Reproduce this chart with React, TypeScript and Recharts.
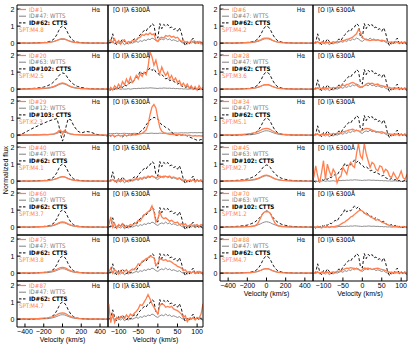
import React from 'react';
import { LineChart, Line, XAxis, YAxis } from 'recharts';

// ---------- velocity grids & ticks ----------
const HA_V = [-480, -420, -360, -300, -250, -200, -160, -120, -90, -60, -40, -20, 0, 20, 40, 60, 90, 120, 160, 200, 250, 300, 360, 420, 480];
const OI_V = [-125, -120, -115, -110, -105, -100, -95, -90, -85, -80, -75, -70, -65, -60, -55, -50, -45, -40, -35, -30, -25, -20, -15, -10, -5, 0, 5, 10, 15, 20, 25, 30, 35, 40, 45, 50, 55, 60, 65, 70, 75, 80, 85, 90, 95, 100, 105, 110, 115];
const HA_TICKS = [-400, -200, 0, 200, 400];
const OI_TICKS = [-100, -50, 0, 50, 100];
const Y_TICKS = [0, 1, 2];
const HA_MINOR = [-450, -400, -350, -300, -250, -200, -150, -100, -50, 0, 50, 100, 150, 200, 250, 300, 350, 400, 450];
const OI_MINOR = [-120, -110, -100, -90, -80, -70, -60, -50, -40, -30, -20, -10, 0, 10, 20, 30, 40, 50, 60, 70, 80, 90, 100, 110];
const Y_MINOR = [-0.4, -0.2, 0, 0.2, 0.4, 0.6, 0.8, 1, 1.2, 1.4, 1.6, 1.8, 2, 2.2];

// ---------- template spectra (WTTS / CTTS) ----------
const HA_WTTS47 = [0.0, 0.0, 0.01, 0.0, 0.01, 0.02, 0.03, 0.06, 0.1, 0.16, 0.21, 0.25, 0.26, 0.25, 0.21, 0.16, 0.1, 0.06, 0.03, 0.02, 0.01, 0.0, 0.0, 0.01, 0.0];
const HA_CTTS62 = [0.0, 0.01, -0.01, 0.02, 0.03, 0.04, 0.07, 0.13, 0.25, 0.5, 0.74, 0.93, 1.0, 0.95, 0.8, 0.56, 0.28, 0.13, 0.06, 0.03, 0.02, 0.0, 0.01, -0.01, 0.0];
const HA_WTTS63 = [0.0, 0.0, 0.01, 0.01, 0.02, 0.03, 0.05, 0.08, 0.13, 0.2, 0.26, 0.3, 0.32, 0.3, 0.26, 0.2, 0.13, 0.08, 0.05, 0.03, 0.02, 0.01, 0.0, 0.0, 0.0];
const HA_CTTS102 = [0.0, 0.02, 0.03, 0.05, 0.08, 0.12, 0.2, 0.3, 0.45, 0.62, 0.78, 0.9, 0.95, 0.92, 0.8, 0.62, 0.42, 0.28, 0.16, 0.1, 0.05, 0.03, 0.02, 0.01, 0.0];
const HA_WTTS12 = [0.0, 0.0, 0.01, 0.0, 0.01, 0.02, 0.02, 0.04, 0.06, 0.1, 0.15, 0.2, 0.22, 0.2, 0.15, 0.1, 0.06, 0.04, 0.02, 0.01, 0.0, 0.0, 0.01, 0.0, 0.0];
const HA_CTTS103 = [0.0, 0.1, 0.28, 0.45, 0.58, 0.7, 0.8, 0.88, 0.93, 0.97, 0.6, 0.05, -0.35, 0.0, 0.55, 0.95, 0.9, 0.55, 0.25, 0.12, 0.22, 0.18, 0.05, 0.0, -0.05];

const OI_WTTS47 = [0.05, 0.0, 0.1, -0.05, 0.05, 0.0, -0.05, 0.05, -0.1, 0.0, -0.05, 0.05, 0.0, 0.05, 0.1, 0.05, 0.15, 0.1, 0.2, 0.15, 0.25, 0.2, 0.3, 0.25, 0.15, 0.1, 0.2, 0.25, 0.2, 0.3, 0.2, 0.25, 0.15, 0.2, 0.15, 0.1, 0.15, 0.05, 0.0, 0.05, -0.05, 0.05, 0.0, 0.1, -0.05, 0.05, 0.0, 0.1, -0.1];
const OI_CTTS62 = [0.0, 0.05, 0.55, 0.1, -0.1, 0.15, 0.05, 0.25, 0.1, -0.05, 0.1, 0.0, 0.15, 0.25, 0.15, 0.35, 0.5, 0.6, 0.75, 0.7, 0.9, 0.95, 1.15, 1.05, 0.4, 0.3, 1.15, 0.85, 1.1, 1.0, 1.1, 0.9, 0.95, 0.8, 0.85, 0.7, 0.9, 0.6, 0.1, -0.15, 0.05, -0.05, 0.15, 0.3, 0.0, 0.1, -0.05, 0.05, -0.15];
const OI_WTTS63 = [0.0, 0.02, -0.02, 0.01, 0.0, 0.03, -0.01, 0.02, 0.0, 0.01, 0.03, 0.0, 0.02, 0.04, 0.03, 0.05, 0.04, 0.06, 0.05, 0.07, 0.06, 0.08, 0.07, 0.06, 0.05, 0.04, 0.06, 0.05, 0.07, 0.06, 0.05, 0.06, 0.04, 0.05, 0.03, 0.04, 0.02, 0.03, 0.01, 0.02, 0.0, 0.01, 0.02, 0.0, 0.01, -0.01, 0.0, 0.01, 0.0];
const OI_CTTS102 = [0.0, -0.05, 0.05, 0.0, 0.1, 0.05, 0.15, 0.1, 0.25, 0.2, 0.3, 0.4, 0.35, 0.55, 0.7, 0.8, 1.05, 0.9, 1.0, 0.95, 1.1, 1.25, 1.1, 1.2, 1.0, 0.95, 0.8, 0.85, 0.75, 0.6, 0.65, 0.5, 0.55, 0.45, 0.4, 0.3, 0.35, 0.2, 0.15, 0.1, 0.15, 0.05, 0.1, 0.0, 0.05, -0.05, 0.0, 0.05, -0.05];
const OI_WTTS12 = [0.1, 0.08, 0.1, 0.09, 0.11, 0.1, 0.09, 0.1, 0.11, 0.1, 0.1, 0.09, 0.1, 0.11, 0.1, 0.1, 0.11, 0.1, 0.12, 0.11, 0.1, 0.11, 0.12, 0.1, 0.11, 0.1, 0.12, 0.11, 0.1, 0.12, 0.11, 0.12, 0.13, 0.12, 0.13, 0.12, 0.13, 0.14, 0.13, 0.14, 0.13, 0.14, 0.15, 0.14, 0.15, 0.14, 0.15, 0.14, 0.15];
const OI_CTTS103 = [0.0, -0.05, 0.0, -0.1, -0.05, 0.0, -0.05, -0.1, 0.0, -0.05, 0.0, -0.05, 0.05, 0.0, 0.05, 0.1, 0.2, 0.3, 0.4, 0.6, 0.75, 0.9, 0.95, 1.05, 1.0, 0.95, 0.75, 0.6, 0.55, 0.45, 0.4, 0.3, 0.2, 0.05, 0.0, 0.0, 0.02, 0.0, 0.02, 0.0, -0.05, -0.1, -0.15, -0.2, -0.25, -0.3, -0.3, -0.25, -0.3];

// ---------- target stars: Hα ----------
const HA_ID1 = [0.0, 0.01, 0.0, 0.02, 0.01, 0.03, 0.04, 0.07, 0.11, 0.16, 0.2, 0.23, 0.24, 0.23, 0.2, 0.15, 0.09, 0.05, 0.03, 0.02, 0.01, 0.0, 0.01, 0.0, 0.0];
const HA_ID20 = [0.0, 0.02, 0.01, 0.03, 0.04, 0.06, 0.08, 0.12, 0.17, 0.24, 0.3, 0.34, 0.36, 0.34, 0.3, 0.23, 0.15, 0.1, 0.06, 0.04, 0.03, 0.01, 0.02, 0.0, 0.01];
const HA_ID29 = [0.0, 0.02, 0.0, 0.03, 0.02, 0.04, 0.03, 0.06, 0.08, 0.15, 0.25, 0.3, 0.05, 0.28, 0.22, 0.12, 0.07, 0.04, 0.03, 0.02, 0.01, 0.02, 0.0, 0.01, 0.0];
const HA_ID40 = [0.0, 0.0, 0.01, 0.0, 0.02, 0.03, 0.04, 0.07, 0.1, 0.15, 0.2, 0.24, 0.26, 0.25, 0.21, 0.15, 0.09, 0.05, 0.03, 0.02, 0.01, 0.0, 0.01, 0.0, 0.0];
const HA_ID60 = [0.0, 0.01, 0.0, 0.02, 0.03, 0.04, 0.06, 0.09, 0.14, 0.2, 0.26, 0.3, 0.31, 0.3, 0.26, 0.19, 0.12, 0.07, 0.04, 0.02, 0.01, 0.01, 0.0, 0.0, 0.0];
const HA_ID75 = [0.0, 0.01, 0.02, 0.02, 0.03, 0.05, 0.07, 0.11, 0.16, 0.23, 0.29, 0.33, 0.34, 0.32, 0.28, 0.21, 0.13, 0.08, 0.05, 0.03, 0.02, 0.01, 0.0, 0.01, 0.0];
const HA_ID87 = [0.0, 0.01, 0.02, 0.03, 0.04, 0.06, 0.08, 0.12, 0.18, 0.26, 0.32, 0.36, 0.37, 0.35, 0.3, 0.23, 0.15, 0.09, 0.05, 0.03, 0.02, 0.01, 0.01, 0.0, 0.0];
const HA_ID6 = [0.0, 0.0, 0.01, 0.02, 0.02, 0.04, 0.05, 0.09, 0.14, 0.2, 0.26, 0.29, 0.3, 0.29, 0.25, 0.18, 0.11, 0.06, 0.03, 0.02, 0.01, 0.0, 0.01, 0.0, 0.0];
const HA_ID28 = [0.0, 0.01, 0.0, 0.01, 0.02, 0.03, 0.05, 0.08, 0.12, 0.18, 0.23, 0.26, 0.27, 0.26, 0.22, 0.16, 0.1, 0.05, 0.03, 0.02, 0.01, 0.01, 0.0, 0.0, 0.0];
const HA_ID34 = [0.0, 0.01, 0.02, 0.03, 0.05, 0.07, 0.1, 0.15, 0.21, 0.29, 0.35, 0.39, 0.4, 0.38, 0.33, 0.26, 0.17, 0.11, 0.06, 0.04, 0.02, 0.01, 0.01, 0.0, 0.0];
const HA_ID45 = [0.0, 0.01, 0.02, 0.02, 0.04, 0.06, 0.08, 0.12, 0.17, 0.24, 0.3, 0.34, 0.35, 0.33, 0.29, 0.22, 0.14, 0.09, 0.05, 0.03, 0.02, 0.01, 0.0, 0.0, 0.0];
const HA_ID70 = [0.0, 0.0, 0.01, 0.02, 0.02, 0.03, 0.04, 0.08, 0.22, 0.55, 0.8, 0.9, 0.92, 0.9, 0.82, 0.55, 0.22, 0.08, 0.04, 0.02, 0.01, 0.0, 0.01, 0.0, 0.0];
const HA_ID88 = [0.0, 0.01, 0.0, 0.01, 0.02, 0.03, 0.04, 0.07, 0.11, 0.17, 0.22, 0.25, 0.26, 0.25, 0.21, 0.15, 0.09, 0.05, 0.03, 0.02, 0.01, 0.0, 0.0, 0.01, 0.0];

// ---------- target stars: [O I] 6300 ----------
const OI_ID1 = [0.1, 0.2, 0.05, 0.25, 0.0, 0.15, -0.05, 0.1, 0.2, 0.0, 0.1, 0.05, 0.15, 0.1, 0.2, 0.3, 0.35, 0.5, 0.45, 0.55, 0.5, 0.6, 0.5, 0.55, 0.2, 0.1, 0.3, 0.35, 0.3, 0.45, 0.4, 0.45, 0.35, 0.4, 0.3, 0.35, 0.2, 0.1, 0.15, 0.05, 0.1, 0.0, 0.15, 0.05, 0.1, 0.0, 0.1, -0.05, 0.05];
const OI_ID20 = [-0.1, 0.1, -0.05, 0.2, 0.05, 0.3, 0.1, 0.45, 0.25, 0.6, 0.35, 0.7, 0.4, 0.55, 0.8, 0.6, 0.9, 0.75, 1.0, 0.85, 1.3, 2.2, 1.9, 1.4, 1.7, 1.2, 0.9, 1.3, 1.0, 0.8, 1.0, 0.6, 0.8, 0.5, 0.65, 0.4, 0.5, 0.2, 0.35, 0.15, 0.3, 0.05, 0.2, 0.0, 0.15, -0.05, 0.2, 0.0, 0.1];
const OI_ID29 = [0.0, -0.05, 0.02, -0.08, -0.03, 0.0, -0.05, -0.02, 0.03, -0.04, 0.0, 0.02, 0.0, 0.03, 0.02, 0.05, 0.08, 0.1, 0.2, 0.3, 0.6, 1.2, 1.65, 1.8, 1.6, 1.0, 0.45, 0.22, 0.15, 0.1, 0.08, 0.05, 0.06, 0.03, 0.05, 0.02, 0.04, 0.0, 0.02, 0.0, -0.02, 0.0, -0.03, -0.05, -0.02, -0.05, -0.03, -0.05, -0.04];
const OI_ID40 = [0.05, 0.0, 0.1, 0.05, -0.05, 0.1, 0.0, 0.05, 0.1, 0.0, 0.05, 0.1, 0.05, 0.1, 0.15, 0.1, 0.2, 0.15, 0.25, 0.2, 0.3, 0.25, 0.3, 0.25, 0.2, 0.25, 0.3, 0.25, 0.3, 0.28, 0.25, 0.3, 0.2, 0.25, 0.2, 0.15, 0.2, 0.1, 0.05, 0.1, 0.0, 0.05, 0.0, 0.1, -0.05, 0.05, 0.0, 0.05, -0.05];
const OI_ID60 = [0.1, 0.6, 0.0, 0.2, -0.05, 0.15, 0.05, 0.2, 0.0, 0.1, 0.05, 0.15, 0.1, 0.2, 0.25, 0.4, 0.35, 0.55, 0.7, 0.8, 0.9, 1.0, 1.25, 0.9, 0.3, 0.5, 0.9, 0.6, 0.5, 0.55, 0.45, 0.35, 0.4, 0.3, 0.25, 0.3, 0.15, 0.2, 0.1, 0.2, 0.05, 0.1, 0.15, 0.05, 0.1, 0.15, 0.05, 0.15, 0.1];
const OI_ID75 = [0.05, 0.3, 0.0, 0.2, 0.1, -0.05, 0.15, 0.0, 0.1, 0.2, 0.05, 0.15, 0.25, 0.2, 0.35, 0.55, 0.5, 0.7, 0.75, 0.85, 0.9, 1.0, 0.95, 0.9, 0.45, 0.6, 0.85, 0.8, 0.75, 0.8, 0.7, 0.72, 0.65, 0.55, 0.5, 0.4, 0.35, 0.3, 0.15, 0.2, 0.05, 0.1, 0.0, 0.1, 0.05, 0.0, 0.1, 0.0, 0.05];
const OI_ID87 = [0.9, -0.2, 0.3, -0.2, 0.1, 0.0, 0.15, 0.1, 0.05, 0.25, 0.1, 0.3, 0.2, 0.35, 0.45, 0.6, 0.85, 0.8, 1.0, 1.2, 1.45, 1.2, 0.9, 0.7, 0.5, 0.3, 0.8, 0.9, 0.85, 0.7, 0.75, 0.7, 0.75, 0.6, 0.55, 0.5, 0.4, 0.3, 0.1, 0.2, -0.15, 0.05, 0.0, 0.1, -0.05, 0.1, 0.05, 0.3, 0.9];
const OI_ID6 = [0.05, 0.0, 0.08, 0.02, 0.05, 0.0, 0.06, 0.03, 0.05, 0.02, 0.08, 0.05, 0.1, 0.08, 0.12, 0.15, 0.18, 0.22, 0.25, 0.3, 0.35, 0.45, 0.55, 0.8, 0.65, 0.35, 0.25, 0.2, 0.18, 0.15, 0.18, 0.2, 0.18, 0.2, 0.15, 0.17, 0.15, 0.12, 0.1, 0.05, 0.08, 0.05, 0.1, 0.03, 0.05, 0.0, 0.05, 0.02, 0.0];
const OI_ID28 = [0.05, 0.0, 0.05, 0.1, 0.0, 0.05, 0.08, 0.02, 0.1, 0.05, 0.1, 0.08, 0.12, 0.1, 0.18, 0.25, 0.2, 0.28, 0.3, 0.35, 0.4, 0.35, 0.25, 0.15, 0.1, 0.15, 0.2, 0.3, 0.35, 0.32, 0.35, 0.3, 0.28, 0.3, 0.22, 0.2, 0.18, 0.15, 0.12, 0.1, 0.05, 0.08, 0.05, 0.02, 0.06, 0.0, 0.04, 0.02, 0.0];
const OI_ID34 = [0.05, 0.02, 0.06, 0.0, 0.05, 0.03, 0.06, 0.02, 0.08, 0.05, 0.1, 0.08, 0.12, 0.1, 0.15, 0.2, 0.22, 0.25, 0.3, 0.32, 0.35, 0.3, 0.28, 0.25, 0.22, 0.3, 0.35, 0.4, 0.38, 0.35, 0.3, 0.25, 0.22, 0.2, 0.18, 0.2, 0.15, 0.12, 0.1, 0.08, 0.05, 0.06, 0.03, 0.05, 0.02, 0.04, 0.0, 0.03, 0.0];
const OI_ID45 = [0.2, 0.9, 0.3, -0.1, 0.5, 1.2, 0.1, 1.0, 0.6, 0.3, 0.7, 0.5, -0.1, 0.2, 0.3, 0.8, 0.6, 0.4, 0.9, 1.1, 0.9, 0.8, 1.6, 2.2, 1.5, 1.3, 2.2, 1.6, 1.2, 0.8, 1.1, 1.0, 0.7, 0.6, 0.9, 0.85, 0.5, 0.7, 0.6, 0.3, 0.2, 0.5, 0.3, 0.1, 0.3, 0.6, 0.2, 0.1, 0.4];
const OI_ID70 = [0.02, -0.03, 0.05, 0.0, -0.05, 0.03, 0.0, 0.05, -0.02, 0.04, 0.0, 0.05, 0.08, 0.1, 0.18, 0.25, 0.3, 0.4, 0.48, 0.6, 0.65, 0.75, 0.85, 0.95, 1.0, 0.95, 0.85, 0.75, 0.7, 0.65, 0.55, 0.5, 0.4, 0.45, 0.38, 0.3, 0.25, 0.2, 0.15, 0.1, 0.08, 0.05, 0.03, 0.06, 0.02, 0.0, 0.04, 0.0, 0.02];
const OI_ID88 = [0.05, 0.0, 0.06, 0.02, 0.05, 0.0, 0.04, 0.06, 0.02, 0.05, 0.08, 0.05, 0.1, 0.12, 0.15, 0.2, 0.25, 0.3, 0.28, 0.32, 0.3, 0.28, 0.25, 0.22, 0.15, 0.2, 0.3, 0.28, 0.3, 0.25, 0.22, 0.25, 0.28, 0.3, 0.25, 0.22, 0.2, 0.15, 0.1, 0.05, 0.06, 0.03, 0.05, 0.0, 0.04, 0.02, 0.0, 0.03, 0.0];

// ---------- labels ----------
const LEFT_IDS = ['ID#1', 'ID#20', 'ID#29', 'ID#40', 'ID#60', 'ID#75', 'ID#87'];
const LEFT_SPT = ['SPT:M4.8', 'SPT:M2.5', 'SPT:K2.3', 'SPT:M4.1', 'SPT:M3.7', 'SPT:M3.8', 'SPT:M4.7'];
const LEFT_TPL = ['47/62', '63/102', '12/103', '47/62', '47/62', '47/62', '47/62'];
const LEFT_HA = [HA_ID1, HA_ID20, HA_ID29, HA_ID40, HA_ID60, HA_ID75, HA_ID87];
const LEFT_OI = [OI_ID1, OI_ID20, OI_ID29, OI_ID40, OI_ID60, OI_ID75, OI_ID87];

const RIGHT_IDS = ['ID#6', 'ID#28', 'ID#34', 'ID#45', 'ID#70', 'ID#88'];
const RIGHT_SPT = ['SPT:M4.2', 'SPT:M3.6', 'SPT:M5.1', 'SPT:M2.7', 'SPT:M1.2', 'SPT:M4.7'];
const RIGHT_TPL = ['47/62', '47/62', '47/62', '63/102', '63/102', '47/62'];
const RIGHT_HA = [HA_ID6, HA_ID28, HA_ID34, HA_ID45, HA_ID70, HA_ID88];
const RIGHT_OI = [OI_ID6, OI_ID28, OI_ID34, OI_ID45, OI_ID70, OI_ID88];

const TEMPLATES: Record<string, any> = {
  '47/62': { w: 'ID#47: WTTS', c: 'ID#62: CTTS', haW: HA_WTTS47, haC: HA_CTTS62, oiW: OI_WTTS47, oiC: OI_CTTS62 },
  '63/102': { w: 'ID#63: WTTS', c: 'ID#102: CTTS', haW: HA_WTTS63, haC: HA_CTTS102, oiW: OI_WTTS63, oiC: OI_CTTS102 },
  '12/103': { w: 'ID#12: WTTS', c: 'ID#103: CTTS', haW: HA_WTTS12, haC: HA_CTTS103, oiW: OI_WTTS12, oiC: OI_CTTS103 },
};

// ---------- styling / layout ----------
const ORANGE = '#FF7F50';
const GRAY = '#808080';
const BLACK = '#000000';
const FONT = "'Liberation Sans Narrow', 'DejaVu Sans Condensed', 'Liberation Sans', Arial, sans-serif";
const TICK_FONT = "'Liberation Sans', Arial, sans-serif";
const Y_DOMAIN = [-0.46, 2.24];
const HA_DOMAIN = [-485, 485];
const OI_DOMAIN = [-127, 115];
const TOP = 5;
const RH = 46;
const PAD = 2; // two 1-px axis bands (major + minor) around each plot box

const GROUPS = [
  { haX: 17, haW: 91, oiX: 108, oiW: 95, ids: LEFT_IDS, spt: LEFT_SPT, tpl: LEFT_TPL, ha: LEFT_HA, oi: LEFT_OI },
  { haX: 220, haW: 93, oiX: 313, oiW: 94, ids: RIGHT_IDS, spt: RIGHT_SPT, tpl: RIGHT_TPL, ha: RIGHT_HA, oi: RIGHT_OI },
];

const fmt = (v: number) => String(v).replace('-', '\u2212');

function rows(vs: number[], o: number[], g: number[], k: number[]) {
  return vs.map((v, i) => ({ v, o: o[i], g: g[i], k: k[i] }));
}

const tickStyle = { fontSize: 7, fill: '#000', fontFamily: TICK_FONT };

function Panel(props: any) {
  const { left, top, width, height, data, xDomain, xTicks, xMinor, showX, showY } = props;
  const W = width + 2 * PAD;
  const H = height + 2 * PAD;
  const common = { allowDataOverflow: true, interval: 0 as const, type: 'number' as const, stroke: BLACK };
  return (
    <div style={{ position: 'absolute', left: left - PAD, top: top - PAD, width: W, height: H }}>
      <LineChart width={W} height={H} data={data} margin={{ top: 0, right: 0, bottom: 0, left: 0 }}>
        <XAxis xAxisId="b" dataKey="v" domain={xDomain} ticks={xTicks} {...common}
          height={1} tickSize={-3.5} tickMargin={6} tick={showX ? tickStyle : false} tickFormatter={fmt} />
        <XAxis xAxisId="bm" dataKey="v" domain={xDomain} ticks={xMinor} {...common}
          height={1} tickSize={-2.5} tick={false} axisLine={false} />
        <XAxis xAxisId="t" orientation="top" dataKey="v" domain={xDomain} ticks={xTicks} {...common}
          height={1} tickSize={-3.5} tick={false} />
        <XAxis xAxisId="tm" orientation="top" dataKey="v" domain={xDomain} ticks={xMinor} {...common}
          height={1} tickSize={-2.5} tick={false} axisLine={false} />
        <YAxis yAxisId="l" domain={Y_DOMAIN} ticks={Y_TICKS} {...common}
          width={1} tickSize={-3.5} tickMargin={6} tick={showY ? tickStyle : false} />
        <YAxis yAxisId="lm" domain={Y_DOMAIN} ticks={Y_MINOR} {...common}
          width={1} tickSize={-2.5} tick={false} axisLine={false} />
        <YAxis yAxisId="r" orientation="right" domain={Y_DOMAIN} ticks={Y_TICKS} {...common}
          width={1} tickSize={-3.5} tick={false} />
        <YAxis yAxisId="rm" orientation="right" domain={Y_DOMAIN} ticks={Y_MINOR} {...common}
          width={1} tickSize={-2.5} tick={false} axisLine={false} />
        <Line xAxisId="b" yAxisId="l" dataKey="g" stroke={GRAY} strokeWidth={0.9} dot={false} isAnimationActive={false} />
        <Line xAxisId="b" yAxisId="l" dataKey="k" stroke={BLACK} strokeWidth={0.9} strokeDasharray="3 2" dot={false} isAnimationActive={false} />
        <Line xAxisId="b" yAxisId="l" dataKey="o" stroke={ORANGE} strokeWidth={1.3} dot={false} isAnimationActive={false} />
      </LineChart>
    </div>
  );
}

export default function App() {
  const panels: any[] = [];
  const texts: any[] = [];
  GROUPS.forEach((g, gi) => {
    const n = g.ids.length;
    g.ids.forEach((id, r) => {
      const t = TEMPLATES[g.tpl[r]];
      const y = TOP + r * RH;
      const last = r === n - 1;
      panels.push(
        <Panel key={`ha${gi}-${r}`} left={g.haX} top={y} width={g.haW} height={RH}
          data={rows(HA_V, g.ha[r], t.haW, t.haC)} xDomain={HA_DOMAIN} xTicks={HA_TICKS} xMinor={HA_MINOR} showX={last} showY={true} />
      );
      panels.push(
        <Panel key={`oi${gi}-${r}`} left={g.oiX} top={y} width={g.oiW} height={RH}
          data={rows(OI_V, g.oi[r], t.oiW, t.oiC)} xDomain={OI_DOMAIN} xTicks={OI_TICKS} xMinor={OI_MINOR} showX={last} showY={false} />
      );
      const lx = g.haX + 2;
      const tx = g.haX + 12;
      texts.push(
        <g key={`t${gi}-${r}`} fontFamily={FONT} fontSize={6.1}>
          <line x1={lx} x2={lx + 7} y1={y + 4.5} y2={y + 4.5} stroke={ORANGE} strokeWidth={1.2} />
          <text x={tx} y={y + 6.7} fill={ORANGE}>{id}</text>
          <line x1={lx} x2={lx + 7} y1={y + 11.2} y2={y + 11.2} stroke={GRAY} strokeWidth={1} />
          <text x={tx} y={y + 13.4} fill={GRAY}>{t.w}</text>
          <line x1={lx} x2={lx + 7} y1={y + 17.9} y2={y + 17.9} stroke={BLACK} strokeWidth={1} strokeDasharray="2.5 1.5" />
          <text x={tx} y={y + 20.1} fill={BLACK} fontWeight="bold">{t.c}</text>
          <text x={lx} y={y + 26.8} fill={ORANGE}>{g.spt[r]}</text>
          <text x={g.haX + g.haW - 8} y={y + 6.7} fill={BLACK} textAnchor="end" fontSize={6.5}>H{'\u03b1'}</text>
          <text x={g.oiX + 5} y={y + 6.7} fill={BLACK} fontSize={6.5}>[O I]{'\u03bb'} 6300{'\u00c5'}</text>
        </g>
      );
    });
    const bottom = TOP + n * RH;
    texts.push(
      <g key={`x${gi}`} fontFamily={TICK_FONT} fontSize={7} fill={BLACK} textAnchor="middle">
        <text x={g.haX + g.haW / 2} y={bottom + 15}>Velocity (km/s)</text>
        <text x={g.oiX + g.oiW / 2} y={bottom + 15}>Velocity (km/s)</text>
      </g>
    );
  });
  return (
    <div style={{ position: 'absolute', left: 0, top: 0, width: 415, height: 346, background: '#fff', overflow: 'hidden' }}>
      <style>{'.recharts-surface{overflow:visible}'}</style>
      {panels}
      <svg width={415} height={346} style={{ position: 'absolute', left: 0, top: 0, pointerEvents: 'none' }}>
        {texts}
        <text x={7.5} y={170} transform="rotate(-90 7.5 170)" textAnchor="middle" fontFamily={TICK_FONT} fontSize={7} fill={BLACK}>Normalized flux</text>
      </svg>
    </div>
  );
}
